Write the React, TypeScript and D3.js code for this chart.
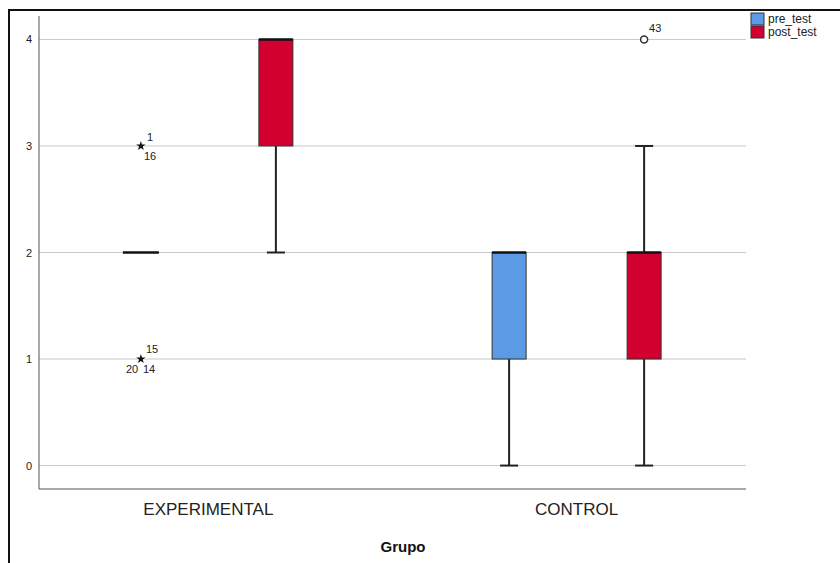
import React from "react";
import * as d3 from "d3";

const groups = ["EXPERIMENTAL", "CONTROL"];
const seriesNames = ["pre_test", "post_test"];
const seriesColors = ["#5b9be6", "#d1002f"];
const yTicks = [0, 1, 2, 3, 4];

const boxGroup = ["EXPERIMENTAL", "EXPERIMENTAL", "CONTROL", "CONTROL"];
const boxSeries = ["pre_test", "post_test", "pre_test", "post_test"];
const boxMin = [2, 2, 0, 0];
const boxQ1 = [2, 3, 1, 1];
const boxMedian = [2, 4, 2, 2];
const boxQ3 = [2, 4, 2, 2];
const boxMax = [2, 4, 2, 3];

const outlierGroup = ["EXPERIMENTAL", "EXPERIMENTAL", "CONTROL"];
const outlierSeries = ["pre_test", "pre_test", "post_test"];
const outlierValue = [3, 1, 4];
const outlierKind = ["extreme", "extreme", "outlier"];
const outlierLabels = [["1", "16"], ["15", "20", "14"], ["43"]];
// label offsets (layout only)
const labelOffsets = [
  [[6, -5], [3, 14]],
  [[5, -6], [-15, 14], [2, 14]],
  [[5, -7]],
];

const W = 840;
const H = 563;
const plotLeft = 39;
const plotRight = 746;
const plotTop = 16;
const plotBottom = 489;
const boxW = 34;
const capW = 18;

export default function App() {
  const x = d3.scalePoint<string>().domain(groups).range([plotLeft, plotRight]).padding(0.46);
  const xs = d3.scalePoint<string>().domain(seriesNames).range([-67.5, 67.5]);
  const y = d3.scaleLinear().domain([-0.22, 4.22]).range([plotBottom, plotTop]);
  const color = d3.scaleOrdinal<string, string>().domain(seriesNames).range(seriesColors);
  const star = d3.symbol().type(d3.symbolStar).size(28)();

  return (
    <svg
      width={W}
      height={H}
      style={{ position: "absolute", left: 0, top: 0, background: "#fff" }}
      fontFamily="'Liberation Sans', Arial, sans-serif"
    >
      {/* outer frame */}
      <path d={`M9,${H} V10 H${W}`} fill="none" stroke="#111" strokeWidth={2} />

      {/* gridlines */}
      {yTicks.map((t) => (
        <line key={"g" + t} x1={plotLeft} x2={plotRight} y1={y(t)} y2={y(t)} stroke="#c8c8c8" strokeWidth={1} />
      ))}
      {/* axes */}
      <line x1={plotLeft} x2={plotLeft} y1={plotTop} y2={plotBottom} stroke="#555" strokeWidth={1} />
      <line x1={plotLeft} x2={plotRight} y1={plotBottom} y2={plotBottom} stroke="#555" strokeWidth={1} />

      {yTicks.map((t) => (
        <text key={"t" + t} x={32} y={y(t) + 4} fontSize={11} textAnchor="end" fill="#222">
          {t}
        </text>
      ))}

      {groups.map((g) => (
        <text key={g} x={x(g)} y={515} fontSize={17} textAnchor="middle" fill="#222">
          {g}
        </text>
      ))}
      <text x={403} y={552} fontSize={15} fontWeight="bold" textAnchor="middle" fill="#111">
        Grupo
      </text>

      {/* boxes */}
      {boxGroup.map((g, i) => {
        const cx = (x(g) as number) + (xs(boxSeries[i]) as number);
        const s = boxSeries[i];
        const collapsed = boxQ1[i] === boxQ3[i];
        return (
          <g key={"b" + i}>
            {boxMin[i] < boxQ1[i] && (
              <>
                <line x1={cx} x2={cx} y1={y(boxMin[i])} y2={y(boxQ1[i])} stroke="#222" strokeWidth={2} />
                <line x1={cx - capW / 2} x2={cx + capW / 2} y1={y(boxMin[i])} y2={y(boxMin[i])} stroke="#222" strokeWidth={2} />
              </>
            )}
            {boxMax[i] > boxQ3[i] && (
              <>
                <line x1={cx} x2={cx} y1={y(boxMax[i])} y2={y(boxQ3[i])} stroke="#222" strokeWidth={2} />
                <line x1={cx - capW / 2} x2={cx + capW / 2} y1={y(boxMax[i])} y2={y(boxMax[i])} stroke="#222" strokeWidth={2} />
              </>
            )}
            {!collapsed && (
              <rect
                x={cx - boxW / 2}
                y={y(boxQ3[i])}
                width={boxW}
                height={y(boxQ1[i]) - y(boxQ3[i])}
                fill={color(s)}
                stroke="#333"
                strokeWidth={1}
              />
            )}
            <line
              x1={cx - (collapsed ? boxW / 2 + 1 : boxW / 2)}
              x2={cx + (collapsed ? boxW / 2 + 1 : boxW / 2)}
              y1={y(boxMedian[i])}
              y2={y(boxMedian[i])}
              stroke="#111"
              strokeWidth={2.5}
            />
          </g>
        );
      })}

      {/* outliers */}
      {outlierGroup.map((g, i) => {
        const cx = (x(g) as number) + (xs(outlierSeries[i]) as number);
        const cy = y(outlierValue[i]);
        return (
          <g key={"o" + i}>
            {outlierKind[i] === "extreme" ? (
              <path d={star as string} transform={`translate(${cx},${cy})`} fill="#111" />
            ) : (
              <circle cx={cx} cy={cy} r={3.5} fill="#fff" stroke="#333" strokeWidth={1.5} />
            )}
            {outlierLabels[i].map((lab, j) => (
              <text key={j} x={cx + labelOffsets[i][j][0]} y={cy + labelOffsets[i][j][1]} fontSize={11} fill="#222">
                {lab}
              </text>
            ))}
          </g>
        );
      })}

      {/* legend */}
      {seriesNames.map((s, i) => (
        <g key={"l" + s} transform={`translate(751,${13 + i * 13})`}>
          <rect x={0} y={0} width={13} height={12} fill={color(s)} stroke="#333" strokeWidth={1} />
          <text x={17} y={10} fontSize={12} fill="#222">
            {s}
          </text>
        </g>
      ))}
    </svg>
  );
}
